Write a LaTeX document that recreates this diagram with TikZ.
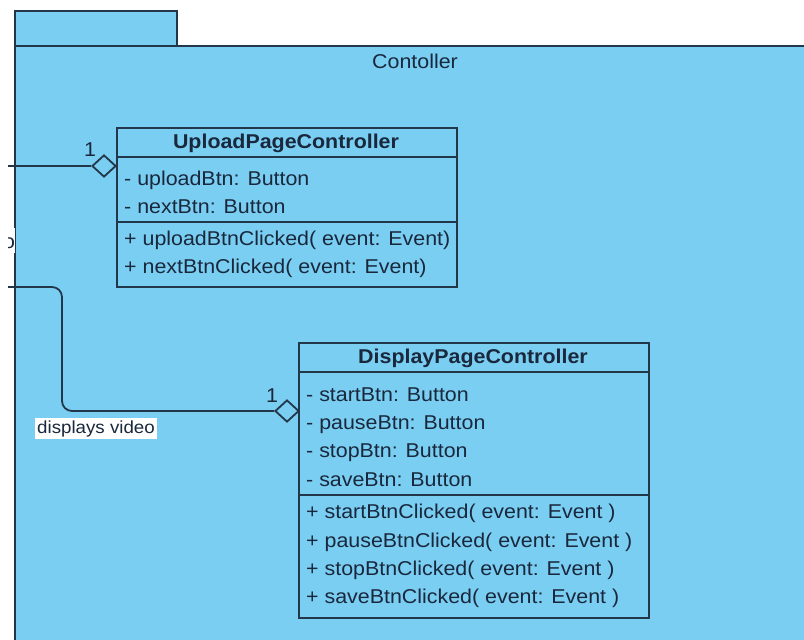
\documentclass[tikz,border=0pt]{standalone}
\usepackage{fontspec}
\setmainfont{Liberation Sans}
\newfontfamily\rf[FakeStretch=1.07]{Liberation Sans}
\usetikzlibrary{shapes.geometric}
\definecolor{pkgfill}{RGB}{122,206,242}
\definecolor{lnc}{RGB}{35,55,75}
\definecolor{tx}{RGB}{25,40,60}
\begin{document}
\begin{tikzpicture}[x=1pt,y=-1pt,
  ln/.style={draw=lnc, line width=1.8pt},
  box/.style={ln, rectangle, inner sep=0pt, anchor=north west},
  txt/.style={text=tx, font=\rf\fontsize{20}{24}\selectfont, inner sep=0pt, anchor=base west},
  ttl/.style={text=tx, font=\rf\bfseries\fontsize{20}{24}\selectfont, inner sep=0pt, anchor=base},
  agg/.style={diamond, ln, fill=pkgfill, minimum width=24pt, minimum height=22pt, inner sep=0pt},
  lbl/.style={text=tx, font=\rf\fontsize{20}{24}\selectfont, inner sep=1pt, anchor=base}]
\useasboundingbox (0,0) rectangle (804,640);
\clip (0,0) rectangle (804,640);
\fill[white] (0,0) rectangle (804,640);
% package
\node[box, fill=pkgfill, minimum width=162pt, minimum height=35pt] (tab) at (14,10) {};
\node[box, fill=pkgfill, minimum width=820pt, minimum height=620pt] (pkg) at (14,45) {};
\node[lbl] (pkgname) at (415,68) {Contoller};
% cut-off external label
\fill[white] (0,228) rectangle (15,253);
\begin{scope}
\clip (8,220) rectangle (15,260);
\node[lbl, inner sep=0pt] (olbl) at (9,248) {o};
\end{scope}
% UploadPageController
\node[box, fill=pkgfill, minimum width=340pt, minimum height=159pt] (up) at (116,127) {};
\draw[ln] (116,157) -- (456,157);
\draw[ln] (116,222) -- (456,222);
\node[ttl] (upt) at (286,148) {UploadPageController};
\node[txt] (ua1) at (124,185) {- uploadBtn: Button};
\node[txt] (ua2) at (124,213) {- nextBtn: Button};
\node[txt] (um1) at (124,245) {+ uploadBtnClicked( event: Event)};
\node[txt] (um2) at (124,273) {+ nextBtnClicked( event: Event)};
% DisplayPageController
\node[box, fill=pkgfill, minimum width=350pt, minimum height=275pt] (dp) at (298,342) {};
\draw[ln] (298,372) -- (648,372);
\draw[ln] (298,495) -- (648,495);
\node[ttl] (dpt) at (473,363) {DisplayPageController};
\node[txt] (da1) at (306,401) {- startBtn: Button};
\node[txt] (da2) at (306,429) {- pauseBtn: Button};
\node[txt] (da3) at (306,457) {- stopBtn: Button};
\node[txt] (da4) at (306,486) {- saveBtn: Button};
\node[txt] (dm1) at (306,518) {+ startBtnClicked( event: Event )};
\node[txt] (dm2) at (306,547) {+ pauseBtnClicked( event: Event )};
\node[txt] (dm3) at (306,575) {+ stopBtnClicked( event: Event )};
\node[txt] (dm4) at (306,603) {+ saveBtnClicked( event: Event )};
% aggregations
\node[agg] (d1) at (104,166) {};
\node[agg] (d2) at (287,411) {};
\coordinate (s1) at (8,166);
\coordinate (s2) at (8,287);
\coordinate (c2) at (62,411);
\draw[ln] (s1) -- (d1.west);
\draw[ln, rounded corners=10pt] (s2) -| (c2) -- (d2.west);
\node[lbl] (m1) at (90,156) {1};
\node[lbl] (m2) at (272,402) {1};
\node[lbl, fill=white, anchor=base west, inner sep=2pt, font=\rf\fontsize{17.5}{21}\selectfont] (dv) at (35,433) {displays video};
\end{tikzpicture}
\end{document}
